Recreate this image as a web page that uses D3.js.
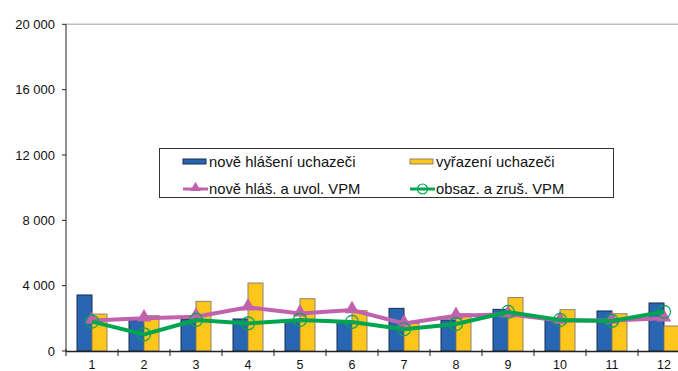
<!DOCTYPE html>
<html><head><meta charset="utf-8">
<script src="https://cdn.jsdelivr.net/npm/d3@7"></script>
<style>body{margin:0;background:#fff}svg{display:block}text{font-family:"Liberation Sans",Arial,sans-serif}</style>
</head><body><svg id="c" width="678" height="371"></svg>
<script>
const months = ["1","2","3","4","5","6","7","8","9","10","11","12"];
const noveHlaseni = [3430,1860,1940,1960,1860,1800,2610,1900,2550,1900,2450,2940];
const vyrazeni = [2260,2160,3040,4160,3200,2470,1690,2280,3270,2530,2280,1530];
const noveVPM = [1860,2000,2100,2680,2300,2510,1690,2160,2250,1860,1860,2000];
const obsazVPM = [1800,1020,1900,1690,1900,1780,1330,1650,2390,1900,1840,2400];
const yTicks = [0,4000,8000,12000,16000,20000];
const seriesNames = ["nově hlášení uchazeči","vyřazení uchazeči","nově hláš. a uvol. VPM","obsaz. a zruš. VPM"];

const svg = d3.select("#c");
const x = d3.scaleBand().domain(months).range([66,690]).paddingInner(0).paddingOuter(0);
const y = d3.scaleLinear().domain([0,20000]).range([351,24.3]);
const fmt = v => d3.format(",")(v).replace(/,/g," ");

const blue="#2966b2", yellow="#fec51a", purple="#c062ae", green="#00a64f";

// top border
svg.append("line").attr("x1",66).attr("x2",678).attr("y1",y(20000)).attr("y2",y(20000))
  .attr("stroke","#c0c0c0").attr("stroke-width",1.5);

svg.append("clipPath").attr("id","clp").append("rect").attr("x",66).attr("y",0).attr("width",612).attr("height",371);
const g = svg.append("g").attr("clip-path","url(#clp)");

const bw = 15;
g.selectAll(".b1").data(noveHlaseni).join("rect")
  .attr("x",(d,i)=>x(months[i])+x.bandwidth()/2-bw).attr("width",bw)
  .attr("y",d=>y(d)).attr("height",d=>y(0)-y(d))
  .attr("fill",blue).attr("stroke","#1a2a50").attr("stroke-width",1);
g.selectAll(".b2").data(vyrazeni).join("rect")
  .attr("x",(d,i)=>x(months[i])+x.bandwidth()/2).attr("width",bw)
  .attr("y",d=>y(d)).attr("height",d=>y(0)-y(d))
  .attr("fill",yellow).attr("stroke","#8a8270").attr("stroke-width",1);

const cx = (d,i)=>x(months[i])+x.bandwidth()/2;
const line = d3.line().x(cx).y(d=>y(d));
g.append("path").datum(noveVPM).attr("d",line).attr("fill","none").attr("stroke",purple).attr("stroke-width",4);
g.selectAll(".tri").data(noveVPM).join("path")
  .attr("d",d3.symbol(d3.symbolTriangle,90)())
  .attr("transform",(d,i)=>`translate(${cx(d,i)},${y(d)-1})`).attr("fill",purple);
g.append("path").datum(obsazVPM).attr("d",line).attr("fill","none").attr("stroke",green).attr("stroke-width",4);
g.selectAll(".cir").data(obsazVPM).join("circle")
  .attr("cx",cx).attr("cy",d=>y(d)).attr("r",6.5).attr("fill","none").attr("stroke",green).attr("stroke-width",1.2);

// y axis
svg.append("line").attr("x1",66).attr("x2",66).attr("y1",y(20000)).attr("y2",y(0)).attr("stroke","#222").attr("stroke-width",1);
const ya = svg.append("g");
yTicks.forEach(t=>{
  ya.append("line").attr("x1",62).attr("x2",66).attr("y1",y(t)).attr("y2",y(t)).attr("stroke","#222");
  ya.append("text").attr("x",55).attr("y",y(t)).attr("dy","0.35em").attr("text-anchor","end")
    .attr("font-size",13).attr("fill","#111").text(fmt(t));
});
// x axis
svg.append("line").attr("x1",66).attr("x2",678).attr("y1",351.5).attr("y2",351.5).attr("stroke","#222").attr("stroke-width",1.3);
months.forEach((m,i)=>{
  const xs = x(m);
  svg.append("line").attr("x1",xs).attr("x2",xs).attr("y1",349).attr("y2",356).attr("stroke","#222");
  svg.append("text").attr("x",xs+x.bandwidth()/2).attr("y",369).attr("text-anchor","middle")
    .attr("font-size",12.5).attr("fill","#111").text(m);
});

// legend
const lg = svg.append("g");
lg.append("rect").attr("x",159.5).attr("y",148.5).attr("width",454).attr("height",49).attr("fill","#fff").attr("stroke","#333").attr("stroke-width",1);
const items = [
  {x:183,y:161.5,type:"bar",c:blue,s:"#1a2a50"},
  {x:410,y:161.5,type:"bar",c:yellow,s:"#8a8270"},
  {x:183,y:189,type:"tri",c:purple},
  {x:410,y:189,type:"cir",c:green}
];
items.forEach((it,i)=>{
  if(it.type==="bar"){
    lg.append("rect").attr("x",it.x).attr("y",it.y-2.5).attr("width",23).attr("height",5).attr("fill",it.c).attr("stroke",it.s);
  } else {
    lg.append("line").attr("x1",it.x).attr("x2",it.x+25).attr("y1",it.y).attr("y2",it.y).attr("stroke",it.c).attr("stroke-width",3);
    if(it.type==="tri") lg.append("path").attr("d",d3.symbol(d3.symbolTriangle,50)()).attr("transform",`translate(${it.x+12.5},${it.y-1})`).attr("fill",it.c);
    else lg.append("circle").attr("cx",it.x+12.5).attr("cy",it.y).attr("r",5).attr("fill","none").attr("stroke",it.c).attr("stroke-width",1.2);
  }
  lg.append("text").attr("x",it.x+26).attr("y",it.y).attr("dy","0.35em")
    .attr("font-size",14.8).attr("fill","#111").text(seriesNames[i]);
});
</script></body></html>
